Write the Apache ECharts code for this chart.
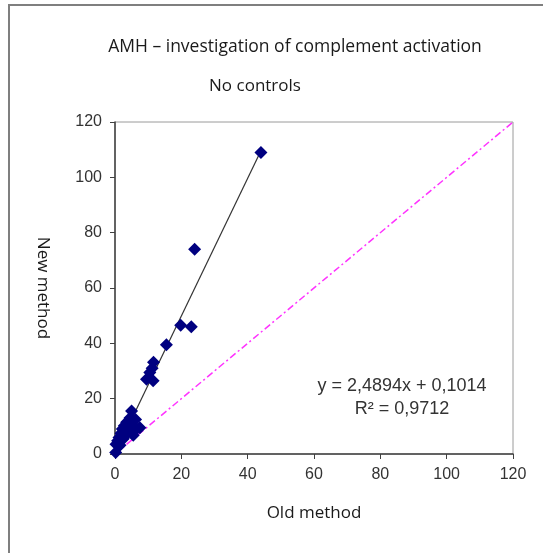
<!DOCTYPE html>
<html><head><meta charset="utf-8">
<script src="https://cdn.jsdelivr.net/npm/echarts@6/dist/echarts.min.js"></script>
<style>html,body{margin:0;padding:0;background:#fff}#c{width:543px;height:553px}</style>
</head><body><div id="c"></div>
<script>
const oldMethod = [0.2,0.3,0.8,1.2,1.8,2.2,2.8,3.5,1.5,2.5,3.2,4.2,5.2,5.5,6.5,7.5,6.2,5.0,4.5,9.5,10.5,11.5,11.2,11.6,15.5,19.8,23,24,44];
const newMethod = [0.5,3.5,4.8,6.0,7.5,9.0,10.2,11.5,3.2,5.5,7.0,8.5,10.5,6.8,9.0,9.5,12.5,15.5,13.0,27,29.5,26.5,31.0,33.2,39.5,46.5,46,74,109];
const slope = 2.4894, intercept = 0.1014, r2 = 0.9712;
const axisTicks = [0,20,40,60,80,100,120];

const pts = oldMethod.map((x,i)=>[x,newMethod[i]]);
const xMax = Math.max(...oldMethod);
const trend = [[0, intercept],[xMax, slope*xMax+intercept]];
const diag = [[axisTicks[0],axisTicks[0]],[axisTicks[axisTicks.length-1],axisTicks[axisTicks.length-1]]];
const fmt = v => String(v).replace('.', ',');

const chart = echarts.init(document.getElementById('c'));
const labelStyle = {color:'#333333', fontFamily:'Liberation Sans, Arial', fontSize:16};
const nameFont = {color:'#1a1a1a',fontFamily:'Open Sans, Liberation Sans',fontSize:17};
chart.setOption({
  animation:false,
  graphic:[
    {type:'rect', shape:{x:9,y:5,width:540,height:552}, style:{fill:'none',stroke:'#7f7f7f',lineWidth:2}, z:-1},
    {type:'text', style:{text:'AMH \u2013 investigation of complement activation', x:295, y:47, textAlign:'center', textVerticalAlign:'middle', fontSize:17.5, fontFamily:'Open Sans, Liberation Sans', fill:'#1a1a1a'}},
    {type:'text', style:{text:'No controls', x:255, y:86, textAlign:'center', textVerticalAlign:'middle', fontSize:17, fontFamily:'Open Sans, Liberation Sans', fill:'#1a1a1a'}},
    {type:'text', style:{text:'y = '+fmt(slope)+'x + '+fmt(intercept)+'\nR\u00b2 = '+fmt(r2), x:402, y:398, textAlign:'center', textVerticalAlign:'middle', fontSize:18, lineHeight:23, fontFamily:'Liberation Sans, Arial', fill:'#333333'}}
  ],
  grid:{left:115,right:30,top:122,bottom:99,show:true,borderColor:'#9a9a9a',borderWidth:1},
  xAxis:{type:'value',min:0,max:120,interval:20,
    name:'Old method',nameLocation:'middle',nameGap:51,
    nameTextStyle:nameFont,
    axisLine:{show:true,lineStyle:{color:'#404040',width:1.5}},
    axisTick:{show:true,inside:false,length:5,lineStyle:{color:'#404040'}},
    axisLabel:Object.assign({margin:13},labelStyle),
    splitLine:{show:false}},
  yAxis:{type:'value',min:0,max:120,interval:20,
    name:'New method',nameLocation:'middle',nameGap:64,nameRotate:-90,
    nameTextStyle:nameFont,
    axisLine:{show:true,lineStyle:{color:'#404040',width:1.5}},
    axisTick:{show:true,inside:false,length:5,lineStyle:{color:'#404040'}},
    axisLabel:Object.assign({margin:13},labelStyle),
    splitLine:{show:false}},
  series:[
    {type:'line',data:diag,symbol:'none',lineStyle:{color:'#ff33ff',width:1.5,type:[7,3,2,3]},z:1},
    {type:'line',data:trend,symbol:'none',lineStyle:{color:'#333333',width:1.2},z:2},
    {type:'scatter',data:pts,symbol:'diamond',symbolSize:13,itemStyle:{color:'#000080',opacity:1},z:3}
  ]
});
</script></body></html>
